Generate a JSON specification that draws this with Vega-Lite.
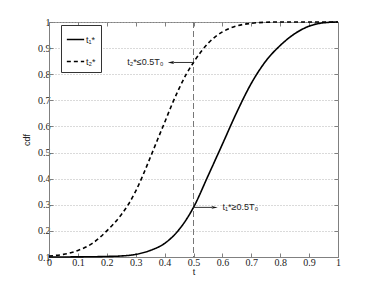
{
  "$schema": "https://vega.github.io/schema/vega-lite/v6.json",
  "width": 289,
  "height": 235,
  "autosize": {"type": "none"},
  "padding": {"left": 49, "top": 22, "right": 36, "bottom": 32},
  "background": "white",
  "config": {
    "view": {"stroke": "#808080", "strokeWidth": 1},
    "axis": {
      "domainColor": "#808080",
      "tickColor": "#808080",
      "gridColor": "#b5b5b5",
      "gridDash": [1, 2],
      "labelFont": "Liberation Serif",
      "labelFontSize": 10,
      "labelColor": "#222",
      "titleFont": "Liberation Sans",
      "titleFontSize": 9,
      "titleFontWeight": "normal",
      "titleColor": "#222"
    }
  },
  "datasets": {
    "curves": [
      {"t": 0.0, "cdf": 0.1, "s": "t₁*"},
      {"t": 0.1, "cdf": 0.1005, "s": "t₁*"},
      {"t": 0.2, "cdf": 0.102, "s": "t₁*"},
      {"t": 0.25, "cdf": 0.104, "s": "t₁*"},
      {"t": 0.3, "cdf": 0.11, "s": "t₁*"},
      {"t": 0.35, "cdf": 0.125, "s": "t₁*"},
      {"t": 0.4, "cdf": 0.152, "s": "t₁*"},
      {"t": 0.45, "cdf": 0.205, "s": "t₁*"},
      {"t": 0.5, "cdf": 0.29, "s": "t₁*"},
      {"t": 0.55, "cdf": 0.41, "s": "t₁*"},
      {"t": 0.6, "cdf": 0.532, "s": "t₁*"},
      {"t": 0.65, "cdf": 0.655, "s": "t₁*"},
      {"t": 0.7, "cdf": 0.765, "s": "t₁*"},
      {"t": 0.75, "cdf": 0.85, "s": "t₁*"},
      {"t": 0.8, "cdf": 0.91, "s": "t₁*"},
      {"t": 0.85, "cdf": 0.955, "s": "t₁*"},
      {"t": 0.9, "cdf": 0.984, "s": "t₁*"},
      {"t": 0.95, "cdf": 0.997, "s": "t₁*"},
      {"t": 1.0, "cdf": 1.0, "s": "t₁*"},
      {"t": 0.0, "cdf": 0.104, "s": "t₂*"},
      {"t": 0.05, "cdf": 0.11, "s": "t₂*"},
      {"t": 0.1, "cdf": 0.125, "s": "t₂*"},
      {"t": 0.15, "cdf": 0.152, "s": "t₂*"},
      {"t": 0.2, "cdf": 0.2, "s": "t₂*"},
      {"t": 0.25, "cdf": 0.262, "s": "t₂*"},
      {"t": 0.275, "cdf": 0.302, "s": "t₂*"},
      {"t": 0.3, "cdf": 0.352, "s": "t₂*"},
      {"t": 0.325, "cdf": 0.413, "s": "t₂*"},
      {"t": 0.35, "cdf": 0.48, "s": "t₂*"},
      {"t": 0.375, "cdf": 0.548, "s": "t₂*"},
      {"t": 0.4, "cdf": 0.615, "s": "t₂*"},
      {"t": 0.425, "cdf": 0.683, "s": "t₂*"},
      {"t": 0.45, "cdf": 0.745, "s": "t₂*"},
      {"t": 0.475, "cdf": 0.8, "s": "t₂*"},
      {"t": 0.5, "cdf": 0.845, "s": "t₂*"},
      {"t": 0.55, "cdf": 0.918, "s": "t₂*"},
      {"t": 0.6, "cdf": 0.962, "s": "t₂*"},
      {"t": 0.65, "cdf": 0.985, "s": "t₂*"},
      {"t": 0.7, "cdf": 0.995, "s": "t₂*"},
      {"t": 0.75, "cdf": 0.999, "s": "t₂*"},
      {"t": 0.8, "cdf": 1.0, "s": "t₂*"},
      {"t": 0.9, "cdf": 1.0, "s": "t₂*"},
      {"t": 1.0, "cdf": 1.0, "s": "t₂*"}
    ],
    "arrows": [
      {"x": 0.5, "x2": 0.43, "y": 0.845, "tip": 0.422, "dir": "left", "label": "t₂*≤0.5T₀", "lx": 0.396},
      {"x": 0.5, "x2": 0.565, "y": 0.29, "tip": 0.573, "dir": "right", "label": "t₁*≥0.5T₀", "lx": 0.6}
    ],
    "vline": [{"t": 0.5}]
  },
  "layer": [
    {
      "data": {"name": "vline"},
      "mark": {"type": "rule", "color": "#777", "strokeDash": [6, 3], "strokeWidth": 1},
      "encoding": {
        "x": {"field": "t", "type": "quantitative", "scale": {"domain": [0, 1], "nice": false},
          "axis": {"orient": "top", "labels": false, "grid": false, "domain": false, "tickSize": -4, "title": null, "values": [0,0.1,0.2,0.3,0.4,0.5,0.6,0.7,0.8,0.9,1]}}
      }
    },
    {
      "data": {"name": "curves"},
      "mark": {"type": "line", "color": "black", "strokeWidth": 1.6, "interpolate": "monotone"},
      "encoding": {
        "x": {"field": "t", "type": "quantitative", "title": "t",
          "scale": {"domain": [0, 1], "nice": false},
          "axis": {"values": [0,0.1,0.2,0.3,0.4,0.5,0.6,0.7,0.8,0.9,1], "format": "~g", "tickSize": -4, "labelPadding": 4, "titlePadding": 0, "labelFlush": false}},
        "y": {"field": "cdf", "type": "quantitative", "title": "cdf",
          "scale": {"domain": [0.1, 1], "nice": false},
          "axis": {"values": [0.1,0.2,0.3,0.4,0.5,0.6,0.7,0.8,0.9,1], "format": "~g", "tickSize": -4, "labelPadding": 3, "titlePadding": 6, "labelFlush": false}},
        "strokeDash": {"field": "s", "type": "nominal",
          "scale": {"domain": ["t₁*", "t₂*"], "range": [[1, 0], [4, 3]]},
          "legend": {"title": null, "orient": "none", "legendX": 12, "legendY": 3,
            "symbolType": "stroke", "symbolStrokeColor": "black", "symbolStrokeWidth": 1.6, "symbolSize": 300,
            "strokeColor": "#333", "fillColor": "white", "padding": 5, "rowPadding": 7, "labelOffset": 1,
            "labelFont": "Liberation Sans", "labelFontSize": 9, "labelColor": "#222"}}
      }
    },
    {
      "data": {"name": "arrows"},
      "mark": {"type": "rule", "color": "#333", "strokeWidth": 1},
      "encoding": {
        "x": {"field": "x", "type": "quantitative", "scale": {"domain": [0, 1], "nice": false}, "axis": null},
        "x2": {"field": "x2"},
        "y": {"field": "y", "type": "quantitative", "scale": {"domain": [0.1, 1], "nice": false},
          "axis": {"orient": "right", "labels": false, "grid": false, "domain": false, "tickSize": -4, "title": null, "values": [0.1,0.2,0.3,0.4,0.5,0.6,0.7,0.8,0.9,1]}}
      }
    },
    {
      "data": {"name": "arrows"},
      "mark": {"type": "point", "filled": true, "color": "#111", "size": 40, "opacity": 1},
      "encoding": {
        "x": {"field": "tip", "type": "quantitative", "scale": {"domain": [0, 1], "nice": false}, "axis": null},
        "y": {"field": "y", "type": "quantitative", "scale": {"domain": [0.1, 1], "nice": false}, "axis": null},
        "shape": {"field": "dir", "type": "nominal", "scale": {"domain": ["left", "right"], "range": ["M-1,0L1,-0.45L0.6,0L1,0.45Z", "M1,0L-1,-0.45L-0.6,0L-1,0.45Z"]}, "legend": null}
      }
    },
    {
      "data": {"name": "arrows"},
      "transform": [{"filter": "datum.dir === 'left'"}],
      "mark": {"type": "text", "font": "Liberation Sans", "fontSize": 9, "color": "#222", "baseline": "middle", "align": "right"},
      "encoding": {
        "x": {"field": "lx", "type": "quantitative", "scale": {"domain": [0, 1], "nice": false}, "axis": null},
        "y": {"field": "y", "type": "quantitative", "scale": {"domain": [0.1, 1], "nice": false}, "axis": null},
        "text": {"field": "label"}
      }
    },
    {
      "data": {"name": "arrows"},
      "transform": [{"filter": "datum.dir === 'right'"}],
      "mark": {"type": "text", "font": "Liberation Sans", "fontSize": 9, "color": "#222", "baseline": "middle", "align": "left"},
      "encoding": {
        "x": {"field": "lx", "type": "quantitative", "scale": {"domain": [0, 1], "nice": false}, "axis": null},
        "y": {"field": "y", "type": "quantitative", "scale": {"domain": [0.1, 1], "nice": false}, "axis": null},
        "text": {"field": "label"}
      }
    }
  ],
  "resolve": {"axis": {"x": "independent", "y": "independent"}}
}
